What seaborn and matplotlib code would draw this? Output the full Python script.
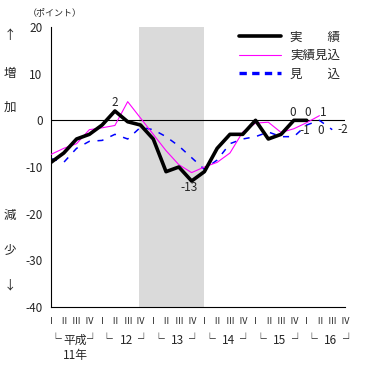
import pandas as pd
import seaborn as sns
import matplotlib.pyplot as plt
from matplotlib.lines import Line2D
from matplotlib.ticker import MultipleLocator
import matplotlib.transforms as mtransforms

quarters = ['Ⅰ', 'Ⅱ', 'Ⅲ', 'Ⅳ'] * 6
years = ['平成', '12', '13', '14', '15', '16']

# 実績 / 実績見込 / 見込 (ポイント)
actual = [-9, -7, -4, -3, -1, 2, -0.3, -1, -4, -11, -10, -13, -11, -6, -3, -3, 0, -4, -3, 0, 0]
actual_est = [-7.3, -6, -5, -2, -1.6, -1.1, 4, 0.5, -3, -6.5, -9.5, -11.2, -10, -9, -7, -2.5,
              -0.6, -0.4, -2.6, -1.8, -0.5, 1]
forecast = [-8.2, -9, -6, -4.5, -4.3, -3, -4, -1.5, -2, -3.5, -5.5, -8, -10.5, -8.5, -5, -4,
            -3.5, -2.5, -3.5, -3.5, -1, 0, -2]

recession = (6.9, 12)

sns.set_style('white')
plt.rcParams['font.family'] = ['Noto Sans CJK JP', 'DejaVu Sans']

fig = plt.figure(figsize=(3.68, 3.65), dpi=100)
ax = fig.add_axes([51 / 368, 58 / 365, 294 / 368, 280 / 365])

ax.axvspan(*recession, facecolor='#dadada', edgecolor='none', zorder=0)
ax.axhline(0, color='black', lw=0.8, zorder=1)

df_a = pd.DataFrame({'q': range(len(actual)), 'v': actual})
df_e = pd.DataFrame({'q': range(len(actual_est)), 'v': actual_est})
df_f = pd.DataFrame({'q': range(len(forecast)), 'v': forecast})

sns.lineplot(data=df_f, x='q', y='v', ax=ax, color='#0000ff', lw=1.1,
             linestyle=(0, (4, 5)), zorder=2)
sns.lineplot(data=df_e, x='q', y='v', ax=ax, color='#ff00ff', lw=0.8, zorder=3)
sns.lineplot(data=df_a, x='q', y='v', ax=ax, color='black', lw=2.6, zorder=4)

ax.set_xlim(0, 23)
ax.set_ylim(-40, 20)
ax.set_xlabel('')
ax.set_ylabel('')
for s in ['top', 'right']:
    ax.spines[s].set_visible(False)
for s in ['left', 'bottom']:
    ax.spines[s].set_color('black')
    ax.spines[s].set_linewidth(0.8)

ax.yaxis.set_major_locator(MultipleLocator(10))
ax.yaxis.set_minor_locator(MultipleLocator(2))
ax.set_xticks(range(24))
ax.set_xticklabels(quarters, fontsize=6.5)
ax.tick_params(axis='y', which='major', direction='in', length=5, width=0.8, labelsize=8.5, pad=6)
ax.tick_params(axis='y', which='minor', direction='in', length=3, width=0.8)
ax.tick_params(axis='x', direction='in', length=3, width=0.8, pad=7)
ax.set_yticklabels([str(int(t)) for t in ax.get_yticks()])

# year brackets under the quarter labels
trans = mtransforms.blended_transform_factory(ax.transData, ax.transAxes)
for k, yr in enumerate(years):
    ax.text(4 * k + 0.35, -0.118, '└', transform=trans, ha='center', va='center', fontsize=8.5)
    ax.text(4 * k + 1.9, -0.118, yr, transform=trans, ha='center', va='center', fontsize=8.5)
    ax.text(4 * k + 3.2, -0.118, '┘', transform=trans, ha='center', va='center', fontsize=8.5)
ax.text(1.9, -0.172, '11年', transform=trans, ha='center', va='center', fontsize=8.5)

# value labels
def label(txt, x, y, dx, dy):
    ax.annotate(txt, (x, y), xytext=(dx, dy), textcoords='offset points',
                ha='center', va='center', fontsize=8.5)

label('2', 5, actual[5], 0, 6)
label('-13', 11, actual[11], -1.5, -5)
label('0', 19, actual[19], -1, 5.5)
label('0', 20, actual[20], 0.5, 5.5)
label('1', 21, actual_est[21], 2.5, 2.5)
label('-1', 20, forecast[20], -1.5, -3.6)
label('0', 21, forecast[21], 0.7, -7)
label('-2', 22, forecast[22], 7.5, 0)

handles = [Line2D([], [], color='black', lw=2.6),
           Line2D([], [], color='#ff00ff', lw=0.8),
           Line2D([], [], color='#0000ff', lw=2.4, linestyle=(0, (2.2, 1.6)))]
ax.legend(handles, ['実\u3000\u3000績', '実績見込', '見\u3000\u3000込'], loc='upper right',
          bbox_to_anchor=(1.0, 1.005), frameon=False, fontsize=9, handlelength=3.4,
          handletextpad=0.7, labelspacing=0.45, borderaxespad=0)

# side captions
fig.text(28 / 368, 1 - 13 / 365, '（ポイント）', fontsize=6.5, ha='left', va='center')
for txt, ypx in [('↑', 35), ('増', 73), ('加', 107), ('減', 215), ('少', 250), ('↓', 285)]:
    fig.text(10 / 368, 1 - ypx / 365, txt, fontsize=9, ha='center', va='center')

fig.savefig('out.png', dpi=100)
